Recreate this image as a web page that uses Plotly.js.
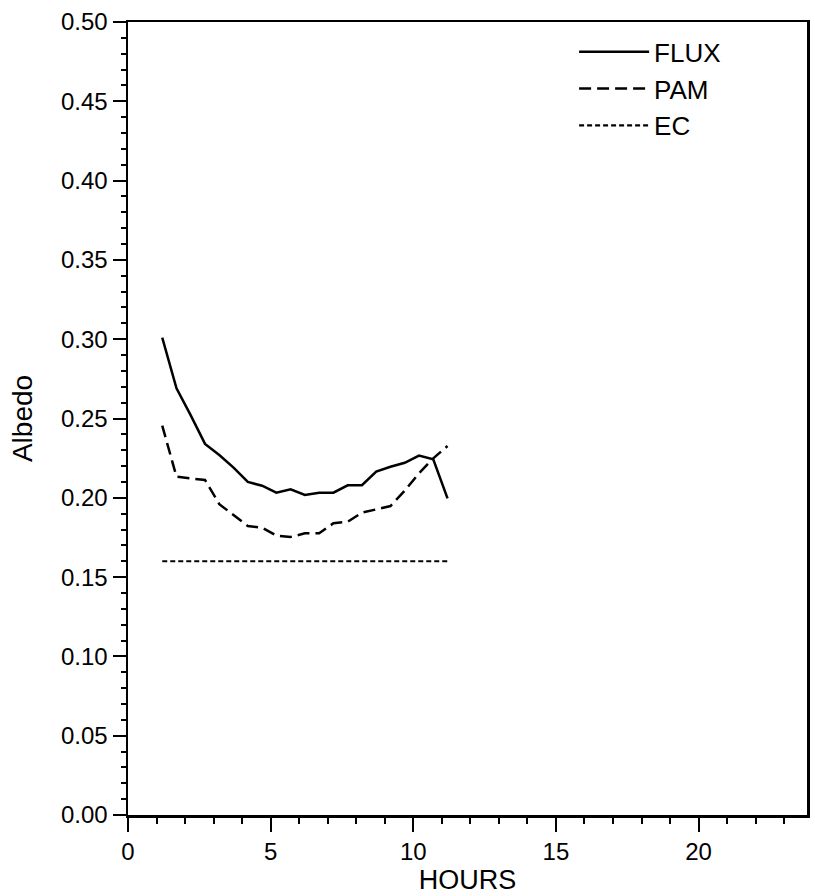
<!DOCTYPE html>
<html>
<head>
<meta charset="utf-8">
<script src="https://cdn.plot.ly/plotly-3.0.1.min.js"></script>
<style>html,body{margin:0;padding:0;background:#fff;}#chart{width:815px;height:896px;}</style>
</head>
<body>
<div id="chart"></div>
<script>
// Data
const hours = [1.2, 1.7, 2.2, 2.7, 3.2, 3.7, 4.2, 4.7, 5.2, 5.7, 6.2, 6.7, 7.2, 7.7, 8.2, 8.7, 9.2, 9.7, 10.2, 10.7, 11.2];
const flux = [0.301, 0.269, 0.252, 0.234, 0.227, 0.219, 0.210, 0.2076, 0.2032, 0.2053, 0.2018, 0.2032, 0.2032, 0.2079, 0.2079, 0.2165, 0.2196, 0.2221, 0.2266, 0.2243, 0.1996];
const pam = [0.2455, 0.2133, 0.2122, 0.2112, 0.1960, 0.1892, 0.1822, 0.1812, 0.1762, 0.1753, 0.1776, 0.1776, 0.1839, 0.1849, 0.1906, 0.1927, 0.1948, 0.2045, 0.2154, 0.2249, 0.2327];
const ec = [0.16, 0.16, 0.16, 0.16, 0.16, 0.16, 0.16, 0.16, 0.16, 0.16, 0.16, 0.16, 0.16, 0.16, 0.16, 0.16, 0.16, 0.16, 0.16, 0.16, 0.16];
const seriesNames = ['FLUX', 'PAM', 'EC'];
const xTickVals = [0, 5, 10, 15, 20];
const yTickVals = [0.00, 0.05, 0.10, 0.15, 0.20, 0.25, 0.30, 0.35, 0.40, 0.45, 0.50];

const FONT = 'Liberation Sans, Arial, Helvetica, sans-serif';

const traces = [
  {x: hours, y: flux, name: seriesNames[0], mode: 'lines', legendgroup: 'a',
   line: {color: '#000', width: 2.5, dash: 'solid'}},
  {x: hours, y: pam, name: seriesNames[1], mode: 'lines', legendgroup: 'b',
   line: {color: '#000', width: 2.5, dash: '12px,6px'}},
  {x: hours, y: ec, name: seriesNames[2], mode: 'lines', legendgroup: 'c',
   line: {color: '#000', width: 2.2, dash: '5px,3px'}}
];

const layout = {
  width: 815, height: 896,
  margin: {l: 128, r: 8, t: 22, b: 81, pad: 0},
  paper_bgcolor: '#fff', plot_bgcolor: '#fff',
  font: {family: FONT, color: '#000', size: 24},
  showlegend: true,
  legend: {
    x: 0.657, y: 0.992, xanchor: 'left', yanchor: 'top',
    font: {family: FONT, size: 26, color: '#000'},
    bgcolor: 'rgba(0,0,0,0)', borderwidth: 0,
    traceorder: 'grouped', tracegroupgap: 0,
    itemwidth: 70
  },
  xaxis: {
    range: [0, 23.8], tickmode: 'array', tickvals: xTickVals,
    ticks: 'outside', ticklen: 14, tickwidth: 2, tickcolor: '#000',
    minor: {dtick: 1, tick0: 0, ticks: 'outside', ticklen: 6, tickwidth: 2, tickcolor: '#000', showgrid: false},
    showline: true, linewidth: 2.5, linecolor: '#000', mirror: true,
    showgrid: false, zeroline: false,
    tickfont: {family: FONT, size: 24, color: '#000'},
    title: {text: 'HOURS', font: {family: FONT, size: 27, color: '#000'}, standoff: 6},
    automargin: false
  },
  yaxis: {
    range: [0, 0.5], tickmode: 'array', tickvals: yTickVals, tickformat: '.2f',
    ticks: 'outside', ticklen: 13, tickwidth: 2, tickcolor: '#000',
    minor: {dtick: 0.01, tick0: 0, ticks: 'outside', ticklen: 5, tickwidth: 2, tickcolor: '#000', showgrid: false},
    showline: true, linewidth: 2.5, linecolor: '#000', mirror: true,
    showgrid: false, zeroline: false,
    tickfont: {family: FONT, size: 24, color: '#000'},
    title: {text: 'Albedo', font: {family: FONT, size: 28, color: '#000'}, standoff: 20},
    automargin: false
  }
};

Plotly.newPlot('chart', traces, layout, {displayModeBar: false, staticPlot: true});
</script>
</body>
</html>
